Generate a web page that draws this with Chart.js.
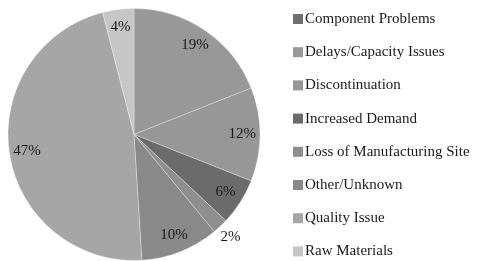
<!DOCTYPE html>
<html>
<head>
<meta charset="utf-8">
<script src="https://cdn.jsdelivr.net/npm/chart.js@4"></script>
<style>
  html, body { margin: 0; padding: 0; background: #fff; }
  #wrap { width: 479px; height: 261px; position: relative; }
</style>
</head>
<body>
<div id="wrap"><canvas id="shortageChart"></canvas></div>
<script>
// shortage causes, share in percent
const causes = ['Component Problems', 'Delays/Capacity Issues', 'Discontinuation', 'Increased Demand',
    'Loss of Manufacturing Site', 'Other/Unknown', 'Quality Issue', 'Raw Materials'];
const shares = [0, 19, 12, 6, 2, 10, 47, 4];
const greys = ['#6e6e6e', '#989898', '#979797', '#6b6b6b', '#8e8e8e', '#898989', '#a6a6a6', '#c6c6c6'];

const serif = '"Liberation Serif", "DejaVu Serif", serif';

// percent labels on the slices (small ones go outside)
const sliceLabels = {
    id: 'sliceLabels',
    afterDatasetsDraw(chart) {
        const ctx = chart.ctx;
        const meta = chart.getDatasetMeta(0);
        ctx.save();
        ctx.font = '15px ' + serif;
        ctx.fillStyle = '#1a1a1a';
        ctx.textAlign = 'center';
        ctx.textBaseline = 'middle';
        meta.data.forEach((arc, i) => {
            const v = shares[i];
            if (!v) return;
            const p = arc.getProps(['x', 'y', 'startAngle', 'endAngle', 'outerRadius'], true);
            const mid = (p.startAngle + p.endAngle) / 2;
            const r = p.outerRadius * (v < 3 ? 1.12 : 0.86);
            ctx.fillText(v + '%', p.x + Math.cos(mid) * r, p.y + Math.sin(mid) * r);
        });
        ctx.restore();
    }
};

// legend on the right, spaced to match the source figure
const sideLegend = {
    id: 'sideLegend',
    afterDraw(chart) {
        const ctx = chart.ctx;
        ctx.save();
        ctx.font = '15px ' + serif;
        ctx.textBaseline = 'middle';
        causes.forEach((name, i) => {
            const y = 19 + i * 33.2;
            ctx.fillStyle = greys[i];
            ctx.fillRect(293, y - 5, 10, 10);
            ctx.fillStyle = '#1a1a1a';
            ctx.fillText(name, 305, y);
        });
        ctx.restore();
    }
};

new Chart('shortageChart', {
    type: 'pie',
    data: {
        labels: causes,
        datasets: [{
            data: shares,
            backgroundColor: greys,
            borderColor: 'rgba(255,255,255,0.3)',
            borderWidth: 1
        }]
    },
    options: {
        responsive: true,
        maintainAspectRatio: false,
        animation: false,
        layout: { padding: { top: 8, bottom: 0, left: 0, right: 211 } },
        plugins: {
            legend: { display: false },
            tooltip: { enabled: false }
        }
    },
    plugins: [sliceLabels, sideLegend]
});
</script>
</body>
</html>
